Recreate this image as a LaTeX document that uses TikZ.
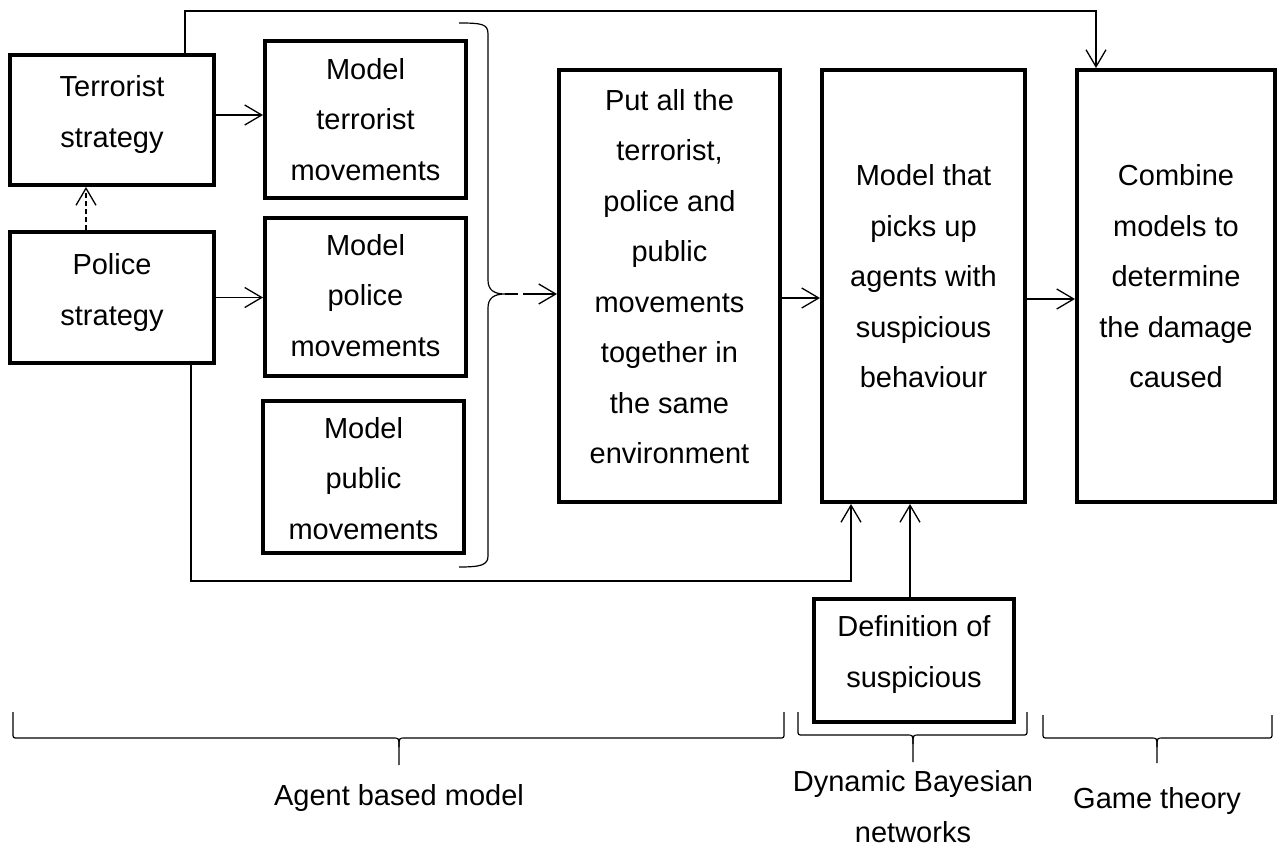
\documentclass[tikz,border=0pt]{standalone}
\usepackage{fontspec}
\setmainfont{Liberation Sans}
\usetikzlibrary{arrows.meta}
\newcommand{\mybrace}[6]{%
 \draw[brc] (#1,#4) -- (#1,#5-5) .. controls (#1,#5) .. (#1+5,#5) -- (#3-6,#5) .. controls (#3,#5) .. (#3,#5+9) -- (#3,#6);
 \draw[brc] (#3,#5+9) .. controls (#3,#5) .. (#3+6,#5) -- (#2-5,#5) .. controls (#2,#5) .. (#2,#5-5) -- (#2,#4);}
\begin{document}
\begin{tikzpicture}[x=1pt,y=-1pt,
  box/.style={draw,line width=4pt,inner sep=0pt},
  txt/.style={align=center,inner sep=0pt,font=\fontsize{29}{50.5}\selectfont},
  conn/.style={line width=1.3pt},
  arr/.style={conn,-{Straight Barb[length=17pt,width=20pt]}},
  brc/.style={line width=1.2pt}]
\useasboundingbox (0,0) rectangle (1278,846);
% boxes
\node[box,minimum width=204pt,minimum height=130pt] (ts) at (112,120) {};
\node[txt] (tst) at (112,111.9) {\strut Terrorist\\\strut strategy};
\node[box,minimum width=204pt,minimum height=131pt] (ps) at (112,297.5) {};
\node[txt] (pst) at (112,289.9) {\strut Police\\\strut strategy};
\node[box,minimum width=201pt,minimum height=157pt] (mt) at (365.5,119.5) {};
\node[txt] (mtt) at (365.5,119.4) {\strut Model\\\strut terrorist\\\strut movements};
\node[box,minimum width=201pt,minimum height=158pt] (mp) at (365.5,297) {};
\node[txt] (mpt) at (365.5,295.4) {\strut Model\\\strut police\\\strut movements};
\node[box,minimum width=201pt,minimum height=152pt] (mu) at (363.5,477) {};
\node[txt] (mut) at (363.5,478.4) {\strut Model\\\strut public\\\strut movements};
\node[box,minimum width=221pt,minimum height=432pt] (put) at (669.5,286) {};
\node[txt] (putt) at (669.5,276.9) {\strut Put all the\\\strut terrorist,\\\strut police and\\\strut public\\\strut movements\\\strut together in\\\strut the same\\\strut environment};
\node[box,minimum width=203pt,minimum height=432pt] (mth) at (923.5,286) {};
\node[txt] (mtht) at (923.5,276.4) {\strut Model that\\\strut picks up\\\strut agents with\\\strut suspicious\\\strut behaviour};
\node[box,minimum width=198pt,minimum height=432pt] (com) at (1176,286) {};
\node[txt] (comt) at (1176,276.4) {\strut Combine\\\strut models to\\\strut determine\\\strut the damage\\\strut caused};
\node[box,minimum width=200pt,minimum height=123pt] (def) at (914,660.5) {};
\node[txt] (deft) at (914,651.9) {\strut Definition of\\\strut suspicious};
% connectors
\coordinate (a1) at ([yshift=5pt]ts.east);
\draw[arr] (a1) -- (a1 -| mt.west);
\draw[arr] (ps.east) -- (ps.east -| mp.west);
\coordinate (d1) at ([xshift=-26pt]ps.north);
\draw[arr,dash pattern=on 5pt off 3pt] (d1) -- (d1 |- ts.south);
\coordinate (t1) at ([xshift=73pt]ts.north);
\coordinate (topr) at (1096,11);
\draw[arr] (t1) |- (topr) -- (topr |- com.north);
\coordinate (p1) at ([xshift=79pt]ps.south);
\coordinate (botr) at (851,581);
\draw[arr] (p1) |- (botr) -- (botr |- mth.south);
\coordinate (d2) at ([xshift=-4pt]def.north);
\draw[arr] (d2) -- (d2 |- mth.south);
\coordinate (a2) at ([yshift=-12pt]put.east);
\draw[arr] (a2) -- (a2 -| mth.west);
\coordinate (a3) at ([yshift=-13pt]mth.east);
\draw[arr] (a3) -- (a3 -| com.west);
% right brace of the three models
\coordinate (btip) at (505,294);
\draw[brc] (459,23) .. controls (482,23) and (488,24) .. (488,34) -- (488,280) .. controls (488,290) and (494,294) .. (btip) .. controls (494,294) and (488,298) .. (488,308) -- (488,556) .. controls (488,565) and (481,567) .. (459,567);
\draw[conn] (btip) -- ++(13,0);
\coordinate (b2) at ([xshift=18pt]btip);
\draw[arr] (b2) -- (b2 -| put.west);
% bottom braces
\mybrace{13}{784}{399}{712}{738}{765}
\mybrace{798}{1027}{913}{712}{735}{762}
\mybrace{1043}{1272}{1157}{715}{738}{763}
\node[txt,anchor=base] (abm) at (399,805) {Agent based model};
\node[txt] (dbn) at (913,799.5) {\strut Dynamic Bayesian\\networks};
\node[txt,anchor=base] (gt) at (1157,808) {Game theory};
\end{tikzpicture}
\end{document}
